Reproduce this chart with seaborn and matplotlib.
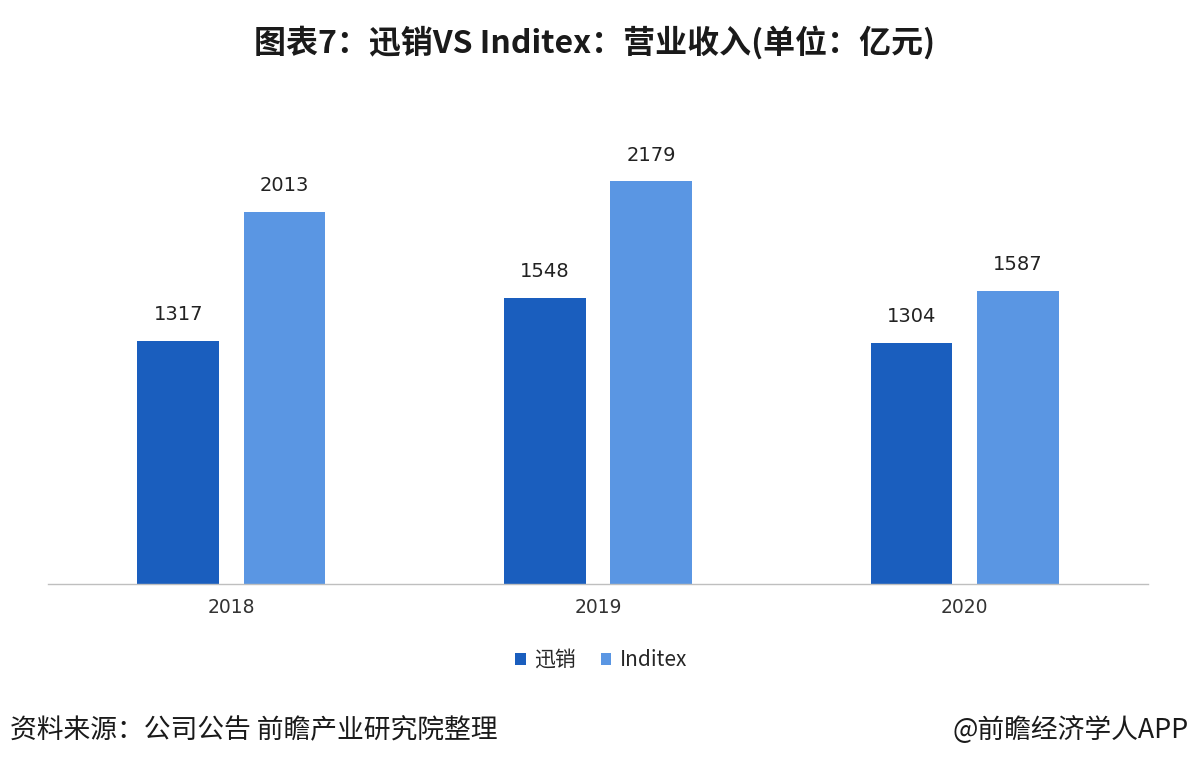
import matplotlib
matplotlib.use('Agg')
import matplotlib.pyplot as plt
import seaborn as sns
import pandas as pd

# 数据
years = ['2018', '2019', '2020']
series_names = ['迅销', 'Inditex']
xunxiao = [1317, 1548, 1304]
inditex = [2013, 2179, 1587]
colors = ['#1A5EBE', '#5A96E3']

df = pd.DataFrame({
    'year': years * 2,
    'company': [series_names[0]] * 3 + [series_names[1]] * 3,
    'value': xunxiao + inditex,
})

sns.set_theme(style='white')
plt.rcParams['font.family'] = ['Noto Sans CJK SC', 'DejaVu Sans']
num_font = ['DejaVu Sans', 'Noto Sans CJK SC']

fig = plt.figure(figsize=(11.9, 7.72), dpi=100)
ax = fig.add_axes([0.0403, 0.2435, 0.9244, 0.5984])

sns.barplot(data=df, x='year', y='value', hue='company', palette=colors,
            width=0.58, gap=0.23, saturation=1, linewidth=0, ax=ax)

for container in ax.containers:
    ax.bar_label(container, fmt='%d', padding=12, fontsize=14, color='#222222',
                 family=num_font)

ax.set_xlim(-0.5, 2.5)
ax.set_ylim(0, 2500)
ax.set_xlabel('')
ax.set_ylabel('')
ax.set_yticks([])
ax.tick_params(axis='x', labelsize=13.5, colors='#333333', length=0, pad=10)
for lbl in ax.get_xticklabels():
    lbl.set_family(num_font)
for side in ['top', 'right', 'left']:
    ax.spines[side].set_visible(False)
ax.spines['bottom'].set_color('#BFBFBF')
ax.spines['bottom'].set_linewidth(1)

ax.legend_.remove()
handles, labels = ax.get_legend_handles_labels()
fig.legend(handles, labels, loc='center', bbox_to_anchor=(0.505, 0.145), ncol=2,
           frameon=False, fontsize=15, handlelength=0.5, handleheight=0.5,
           handletextpad=0.4, columnspacing=1.2)

fig.text(0.5, 0.945, '图表7：迅销VS Inditex：营业收入(单位：亿元)', ha='center', va='center',
         fontsize=23, fontweight='bold', color='#1a1a1a')
fig.text(0.008, 0.054, '资料来源：公司公告 前瞻产业研究院整理', ha='left', va='center',
         fontsize=19.3, color='#1a1a1a')
fig.text(0.999, 0.054, '@前瞻经济学人APP', ha='right', va='center',
         fontsize=19.3, color='#1a1a1a')

fig.savefig('out.png', dpi=100)
plt.close(fig)
